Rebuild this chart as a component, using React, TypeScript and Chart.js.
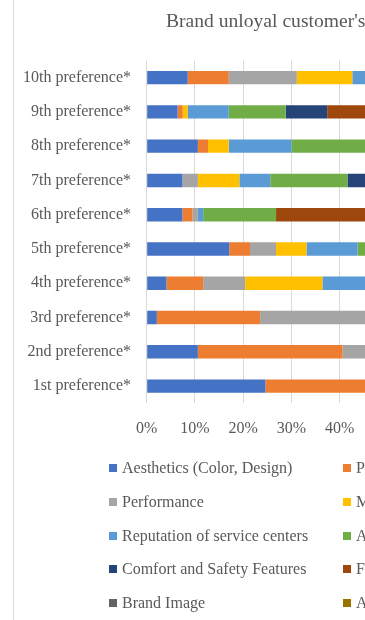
import React, { useEffect, useRef } from "react";
import { Chart, registerables } from "chart.js";

Chart.register(...registerables);

// Rank positions, bottom (1st) to top (10th)
const categories = [
  "1st preference*",
  "2nd preference*",
  "3rd preference*",
  "4th preference*",
  "5th preference*",
  "6th preference*",
  "7th preference*",
  "8th preference*",
  "9th preference*",
  "10th preference*",
];

const seriesNames = [
  "Aesthetics (Color, Design)",
  "Price",
  "Performance",
  "Mileage",
  "Reputation of service centers",
  "After-sales service",
  "Comfort and Safety Features",
  "Fuel efficiency",
  "Brand Image",
  "Availability of spare parts",
];

const seriesColors = [
  "#4472C4",
  "#ED7D31",
  "#A5A5A5",
  "#FFC000",
  "#5B9BD5",
  "#70AD47",
  "#264478",
  "#9E480E",
  "#636363",
  "#997300",
];

// Share (%) of customers per factor, one value per rank position
const aesthetics = [24.6, 10.6, 2.1, 4.1, 17.1, 7.4, 7.4, 10.6, 6.4, 8.5];
const price = [30.4, 30.0, 21.4, 7.6, 4.3, 2.1, 0, 2.1, 1.05, 8.5];
const performance = [12, 14, 25, 8.7, 5.4, 1.1, 3.2, 0, 0, 14.1];
const mileage = [8, 10, 12, 16.0, 6.3, 0, 8.6, 4.3, 1.05, 11.5];
const reputation = [7, 9, 10, 12, 10.6, 1.1, 6.4, 13.0, 8.5, 8];
const afterSales = [6, 8, 9, 14, 15, 15.1, 16.0, 20, 11.8, 12];
const comfortSafety = [5, 7, 8, 12, 14, 0, 18, 16, 8.6, 10];
const fuelEfficiency = [3, 5, 6, 11, 12, 25, 15, 14, 22, 11];
const brandImage = [2.5, 4, 4, 8, 9, 26, 14, 12, 24, 9];
const spareParts = [1.5, 2.4, 2.5, 6.6, 6.3, 22.2, 11.4, 8, 16.6, 7.4];

const seriesValues = [
  aesthetics,
  price,
  performance,
  mileage,
  reputation,
  afterSales,
  comfortSafety,
  fuelEfficiency,
  brandImage,
  spareParts,
];

const xTicks = [0, 10, 20, 30, 40, 50, 60, 70, 80, 90, 100];

const titleText = "Brand unloyal customer's preference list";

const FONT = "'Liberation Serif', 'Times New Roman', serif";
const TEXT = "#595959";

export default function App() {
  const canvasRef = useRef<HTMLCanvasElement | null>(null);

  useEffect(() => {
    const canvas = canvasRef.current;
    if (!canvas) return;
    const chart = new Chart(canvas, {
      type: "bar",
      data: {
        labels: categories,
        datasets: seriesNames.map((name, i) => ({
          label: name,
          data: seriesValues[i],
          backgroundColor: seriesColors[i],
          borderWidth: 0,
          barPercentage: 0.39,
          categoryPercentage: 1,
        })),
      },
      options: {
        indexAxis: "y",
        responsive: false,
        animation: false,
        devicePixelRatio: 1,
        layout: {
          padding: { left: 4, right: 34.3, top: 0, bottom: 6.6 },
        },
        plugins: {
          legend: { display: false },
          tooltip: { enabled: false },
          title: {
            display: true,
            text: titleText,
            color: TEXT,
            font: { family: FONT, size: 19.6, weight: "normal" },
            padding: { top: 10, bottom: 27 },
          },
        },
        scales: {
          x: {
            stacked: true,
            min: 0,
            max: 100,
            afterBuildTicks: (scale: any) => {
              scale.ticks = xTicks.map((v) => ({ value: v }));
            },
            ticks: {
              color: TEXT,
              font: { family: FONT, size: 16 },
              padding: 16,
              maxRotation: 0,
              callback: (v: any) => `${v}%`,
            },
            grid: { color: "#d9d9d9", drawTicks: false, lineWidth: 1 },
            border: { display: false },
          },
          y: {
            stacked: true,
            reverse: true,
            afterFit: (scale: any) => {
              scale.width = 128.7;
            },
            ticks: {
              color: TEXT,
              font: { family: FONT, size: 16 },
              padding: 15.7,
            },
            grid: { display: false, drawTicks: false },
            border: { display: false },
          },
        },
      },
    });
    return () => chart.destroy();
  }, []);

  return (
    <div
      style={{
        position: "absolute",
        left: 0,
        top: 0,
        width: 365,
        height: 620,
        overflow: "hidden",
        background: "#ffffff",
      }}
    >
      <div
        style={{
          position: "absolute",
          left: 13,
          top: 0,
          width: 1,
          height: 620,
          background: "#d9d9d9",
        }}
      />
      <canvas
        ref={canvasRef}
        width={650}
        height={461}
        style={{ position: "absolute", left: 14, top: 0, width: 650, height: 461 }}
      />
      <div
        style={{
          position: "absolute",
          left: 109,
          top: 451.1,
          display: "grid",
          gridTemplateColumns: "234px 234px",
          gridAutoRows: "33.8px",
          alignItems: "center",
          fontFamily: FONT,
          fontSize: 16,
          color: TEXT,
          whiteSpace: "nowrap",
        }}
      >
        {seriesNames.map((name, i) => (
          <div key={name} style={{ display: "flex", alignItems: "center" }}>
            <span
              style={{
                display: "inline-block",
                width: 8,
                height: 8,
                background: seriesColors[i],
                marginRight: 5,
              }}
            />
            <span>{name}</span>
          </div>
        ))}
      </div>
    </div>
  );
}
